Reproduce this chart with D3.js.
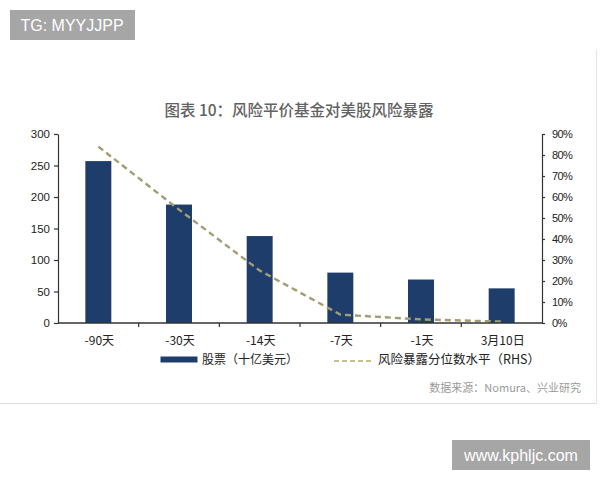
<!DOCTYPE html>
<html><head><meta charset="utf-8">
<script src="https://cdn.jsdelivr.net/npm/d3@7"></script>
<style>
html,body{margin:0;padding:0;background:#fff;}
svg{display:block;}
</style></head>
<body>
<svg id="c" width="600" height="480"></svg>
<script>
const categories = ["-90天", "-30天", "-14天", "-7天", "-1天", "3月10日"];
const equityValues = [257, 188, 138, 80, 69, 55];           // 股票（十亿美元）
const exposurePercentile = [0.84, 0.54, 0.25, 0.04, 0.017, 0.007]; // 风险暴露分位数水平（RHS）
const leftTicks = [0, 50, 100, 150, 200, 250, 300];
const rightTicks = [0, 0.1, 0.2, 0.3, 0.4, 0.5, 0.6, 0.7, 0.8, 0.9];
const titleText = "图表 10：风险平价基金对美股风险暴露";
const legendLabels = ["股票（十亿美元）", "风险暴露分位数水平（RHS）"];
const sourceText = "数据来源：Nomura、兴业研究";

const svg = d3.select("#c");
const latin = "'Liberation Sans', Arial, sans-serif";
const cjk = "'Noto Sans CJK SC', 'Liberation Sans', sans-serif";

// card edges
svg.append("line").attr("x1", 0).attr("x2", 596.5).attr("y1", 403.5).attr("y2", 403.5)
  .attr("stroke", "#dcdcdc").attr("stroke-width", 1.2);
svg.append("line").attr("x1", 596.5).attr("x2", 596.5).attr("y1", 50).attr("y2", 403.5)
  .attr("stroke", "#e4e4e4").attr("stroke-width", 1);

// title
svg.append("text").attr("x", 299).attr("y", 115.5).attr("text-anchor", "middle")
  .attr("font-family", cjk).attr("font-size", 15.5).attr("font-weight", 500)
  .attr("fill", "#626262").text(titleText);

const x0 = 58, x1 = 542, yTop = 134, yBot = 323;
const pInner = 0.678;
const x = d3.scaleBand().domain(categories).range([x0, x1])
  .paddingInner(pInner).paddingOuter(pInner / 2);
const yL = d3.scaleLinear().domain([0, 300]).range([yBot, yTop]);
const yR = d3.scaleLinear().domain([0, 0.9]).range([yBot, yTop]);

// bars
svg.append("g").selectAll("rect").data(equityValues).join("rect")
  .attr("x", (d, i) => x(categories[i]))
  .attr("y", d => yL(d))
  .attr("width", x.bandwidth())
  .attr("height", d => yBot - yL(d))
  .attr("fill", "#1f3d6b");

// line
const line = d3.line()
  .x((d, i) => x(categories[i]) + x.bandwidth() / 2)
  .y(d => yR(d));
svg.append("path").datum(exposurePercentile)
  .attr("d", line).attr("fill", "none")
  .attr("stroke", "#a49d74").attr("stroke-width", 2.4)
  .attr("stroke-dasharray", "6,4");

// left axis
const axL = svg.append("g").attr("transform", `translate(${x0},0)`)
  .call(d3.axisLeft(yL).tickValues(leftTicks).tickSize(4).tickPadding(4).tickSizeOuter(0));
// right axis
const axR = svg.append("g").attr("transform", `translate(${x1},0)`)
  .call(d3.axisRight(yR).tickValues(rightTicks).tickSize(3).tickPadding(7).tickSizeOuter(0)
    .tickFormat(d3.format(".0%")));
[axL, axR].forEach(g => {
  g.selectAll("path,line").attr("stroke", "#333").attr("stroke-width", 1.2);
  g.selectAll("text").attr("font-family", latin).attr("font-size", 11.5).attr("fill", "#222");
});
axR.selectAll("text").attr("font-size", 11).attr("letter-spacing", -0.6);

// x axis with ticks at band boundaries
const gx = svg.append("g").attr("transform", `translate(0,${yBot})`);
gx.append("line").attr("x1", x0).attr("x2", x1).attr("y1", 0).attr("y2", 0)
  .attr("stroke", "#333").attr("stroke-width", 1.4);
const bounds = categories.slice(1).map(c => x(c) - x.step() * pInner / 2);
gx.selectAll("line.t").data(bounds).join("line").attr("class", "t")
  .attr("x1", d => d).attr("x2", d => d).attr("y1", 0).attr("y2", 4)
  .attr("stroke", "#333").attr("stroke-width", 1.2);
gx.selectAll("text").data(categories).join("text")
  .attr("x", d => x(d) + x.bandwidth() / 2 + 1)
  .attr("y", 22).attr("text-anchor", "middle")
  .attr("font-family", cjk).attr("font-size", 12).attr("fill", "#222")
  .text(d => d);

// legend
const lg = svg.append("g");
lg.append("rect").attr("x", 160.5).attr("y", 356.5).attr("width", 37).attr("height", 6)
  .attr("fill", "#1f3d6b");
lg.append("text").attr("x", 202).attr("y", 364).attr("font-family", cjk)
  .attr("font-size", 12).attr("fill", "#222").text(legendLabels[0]);
lg.append("line").attr("x1", 334).attr("x2", 371).attr("y1", 361).attr("y2", 361)
  .attr("stroke", "#c9c08c").attr("stroke-width", 2).attr("stroke-dasharray", "5,3");
lg.append("text").attr("x", 378).attr("y", 364).attr("font-family", cjk)
  .attr("font-size", 12.5).attr("fill", "#222").text(legendLabels[1]);

// source
svg.append("text").attr("x", 581).attr("y", 392).attr("text-anchor", "end")
  .attr("font-family", cjk).attr("font-size", 11).attr("fill", "#9a9a9a").text(sourceText);

// watermark boxes
svg.append("rect").attr("x", 10).attr("y", 10).attr("width", 125).attr("height", 30).attr("fill", "#a6a6a6");
svg.append("text").attr("x", 20.5).attr("y", 31).attr("font-family", latin)
  .attr("font-size", 16).attr("fill", "#fff").text("TG: MYYJJPP");
svg.append("rect").attr("x", 452).attr("y", 440).attr("width", 138).attr("height", 30).attr("fill", "#a6a6a6");
svg.append("text").attr("x", 521).attr("y", 461).attr("text-anchor", "middle").attr("font-family", latin)
  .attr("font-size", 16).attr("fill", "#fff").text("www.kphljc.com");
</script>
</body></html>
